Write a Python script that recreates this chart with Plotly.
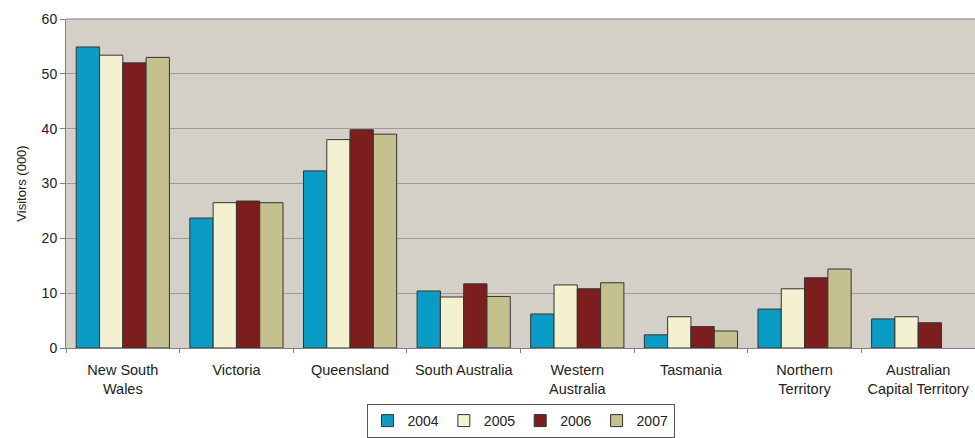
import plotly.graph_objects as go

categories = ["New South<br>Wales", "Victoria", "Queensland", "South Australia",
              "Western<br>Australia", "Tasmania", "Northern<br>Territory",
              "Australian<br>Capital Territory"]
years = ["2004", "2005", "2006", "2007"]
v2004 = [54.9, 23.7, 32.3, 10.4, 6.2, 2.4, 7.1, 5.3]
v2005 = [53.4, 26.5, 38.0, 9.3, 11.5, 5.7, 10.8, 5.7]
v2006 = [52.0, 26.8, 39.8, 11.7, 10.8, 3.9, 12.8, 4.6]
v2007 = [53.0, 26.5, 39.0, 9.4, 11.9, 3.1, 14.4, None]
series = [v2004, v2005, v2006, v2007]
colors = ["#0A9CC4", "#F3F1CF", "#7D1E1E", "#C5C18F"]

fig = go.Figure()
for name, vals, col in zip(years, series, colors):
    fig.add_trace(go.Bar(name=name, x=categories, y=vals,
                         marker=dict(color=col, line=dict(color="#333333", width=1))))

fig.update_layout(
    width=975, height=438,
    margin=dict(l=66, r=0, t=19, b=90, autoexpand=False),
    barmode="group", bargap=0.18, bargroupgap=0,
    paper_bgcolor="#FFFFFF", plot_bgcolor="#D4D0C8",
    font=dict(family="Liberation Sans, Arial, sans-serif", size=15, color="#222222"),
    legend=dict(orientation="h", x=0.5, xanchor="center", xref="paper",
                y=0, yanchor="bottom", yref="container",
                bordercolor="#555555", borderwidth=1, bgcolor="#FFFFFF",
                font=dict(size=14), itemwidth=30, tracegroupgap=0),
    showlegend=True,
)
fig.update_yaxes(range=[0, 60], dtick=10, showgrid=True, gridcolor="#A09C94", gridwidth=1,
                 showline=True, linecolor="#808080", mirror=False,
                 ticks="outside", ticklen=5, tickcolor="#808080",
                 title=dict(text="Visitors (000)", font=dict(size=13), standoff=12),
                 tickfont=dict(size=14), zeroline=False, automargin=False)
fig.update_xaxes(showline=True, linecolor="#808080", ticks="outside", ticklen=4,
                 tickcolor="#808080", tickson="boundaries", tickfont=dict(size=14.5),
                 tickangle=0, ticklabelstandoff=9, range=[-0.5, 7.5], automargin=False)
fig.add_shape(type="line", xref="paper", yref="paper", x0=0, x1=1, y0=1, y1=1,
              line=dict(color="#808080", width=1))
fig.write_html("out.html")
